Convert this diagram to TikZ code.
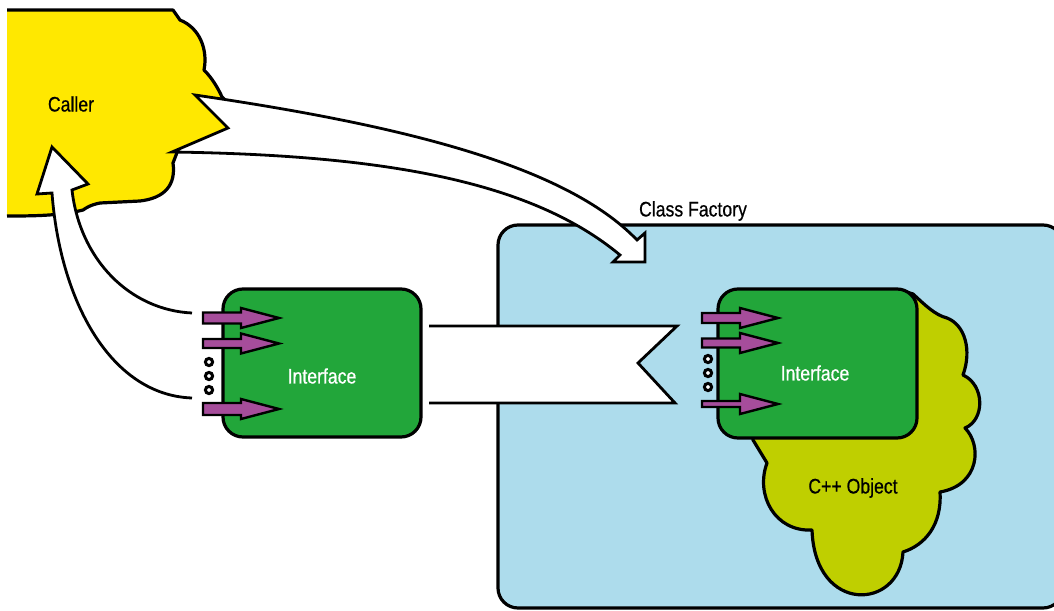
\documentclass[tikz,border=0pt]{standalone}
\usepackage{fontspec}
\setmainfont{Liberation Sans}[FakeStretch=0.84, FakeBold=0.6]
\definecolor{callerYellow}{RGB}{255,232,0}
\definecolor{factoryBlue}{RGB}{173,220,236}
\definecolor{ifaceGreen}{RGB}{34,166,58}
\definecolor{objectOlive}{RGB}{191,207,0}
\definecolor{stubPurple}{RGB}{166,77,155}

\begin{document}
\begin{tikzpicture}[x=0.5pt, y=-0.5pt,
                    outline/.style={draw=black, line width=1.6pt, line join=round},
                    bigarrow/.style={fill=white, draw=black, line width=1.4pt, line join=miter},
                    iface/.style={fill=ifaceGreen, draw=black, line width=1.6pt, rounded corners=10pt},
                    stub/.style={fill=stubPurple, draw=black, line width=1.2pt},
                    port/.style={circle, fill=white, draw=black, line width=1.5pt, inner sep=0pt, minimum size=3.6pt},
                    txt/.style={font=\fontsize{10.5}{12}\selectfont, inner sep=0pt}
                ]
                \useasboundingbox (0,0) rectangle (1054,610);
                \clip (0,0) rectangle (1054,610);
                % class factory
                \draw[outline, fill=factoryBlue, rounded corners=10pt] (498,225) rectangle (1063,608);
                \node[txt] (factory) at (693,211) {Class Factory};
                % C++ object cloud
                \draw[outline, fill=objectOlive] (900,290) -- (913,294)
                    .. controls (925,305) and (935,315) .. (947,318)
                    .. controls (965,325) and (972,350) .. (963,375)
                    .. controls (985,385) and (985,420) .. (965,428)
                    .. controls (982,445) and (980,485) .. (940,492)
                    .. controls (942,525) and (925,545) .. (903,552)
                    .. controls (900,610) and (815,615) .. (812,530)
                    .. controls (775,532) and (755,495) .. (767,463)
                    -- (753,440) -- (760,300) -- cycle;
                \node[txt] (object) at (853,488) {C++ Object};
                \draw[iface] (718,289) rectangle (917,438);
                % caller cloud
                \draw[outline, fill=callerYellow] (7,10) -- (173,10) -- (180,20)
                    .. controls (200,28) and (208,50) .. (204,70)
                    .. controls (212,78) and (218,88) .. (222,97)
                    -- (250,125) -- (205,146) -- (178,150) -- (173,163)
                    .. controls (176,185) and (165,198) .. (140,201) -- (100,203)
                    .. controls (90,205) and (86,208) .. (83,210)
                    .. controls (60,216) and (30,216) .. (7,216);
                \node[txt] (caller) at (71,104) {Caller};
                % caller -> class factory
                \draw[bigarrow] (195,95) .. controls (400,125) and (565,165) .. (637,240)
                    -- (645,233) -- (645,262) -- (613,262) -- (620,255)
                    .. controls (530,180) and (380,155) .. (172,152) -- (228,128) -- cycle;
                % interface -> caller
                \draw[bigarrow] (192,313) .. controls (130,310) and (80,260) .. (72,190)
                    -- (88,184) -- (52,147) -- (37,194) -- (52,193)
                    .. controls (60,300) and (110,395) .. (192,398);
                % interface -> class factory
                \draw[bigarrow] (429,326) -- (677,326) -- (638,363) -- (675,403) -- (429,403);
                \draw[iface] (223,289) rectangle (421,437);
                \node[txt, text=white] (ifaceL) at (322,376) {Interface};
                \node[txt, text=white] (ifaceR) at (815,373) {Interface};
                % method stubs
                \foreach \x/\y/\h in {203/318/5.5, 203/343.5/4.5, 203/409/6, 702/318/5, 702/343/4.5, 702/404/3}
                    \draw[stub] (\x,\y-\h) -- (\x+38,\y-\h) -- (\x+38,\y-10) -- (\x+76,\y)
                        -- (\x+38,\y+10) -- (\x+38,\y+\h) -- (\x,\y+\h) -- cycle;
                \foreach \x/\y [count=\i] in {209/362, 209/376, 209/390, 708/359, 708/373, 708/387}
                    \node[port] (port\i) at (\x,\y) {};
                \end{tikzpicture}
\end{document}
